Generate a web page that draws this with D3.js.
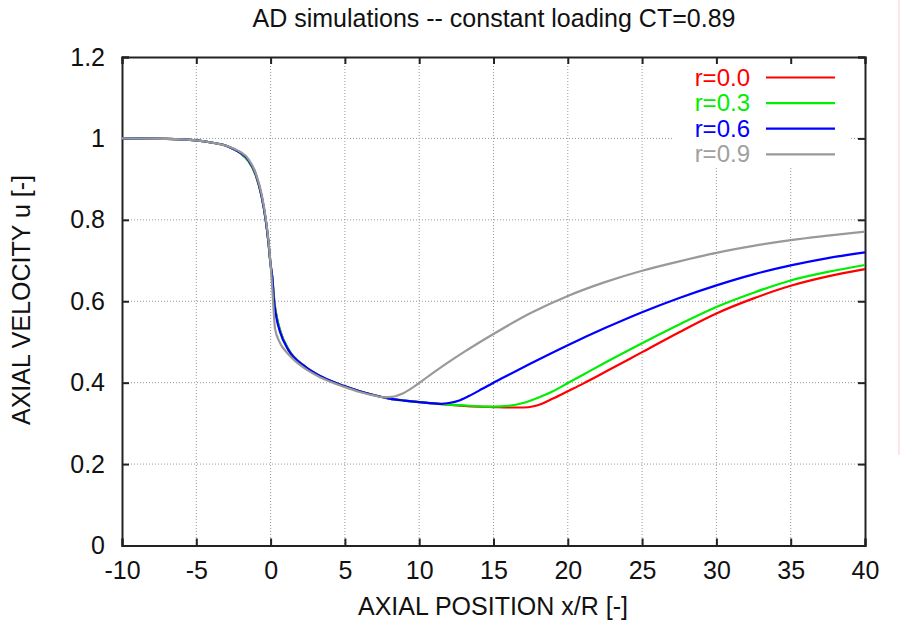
<!DOCTYPE html>
<html>
<head>
<meta charset="utf-8">
<title>AD simulations</title>
<script src="https://cdn.jsdelivr.net/npm/d3@7"></script>
<style>
	body { margin: 0; background: #fff; }
	svg text { font-family: "Liberation Sans", Arial, sans-serif; }
</style>
</head>
<body>
<div class="chart"></div>
<script>
	// tick values
	let xTicks = [-10, -5, 0, 5, 10, 15, 20, 25, 30, 35, 40];
	let yTicks = [0, 0.2, 0.4, 0.6, 0.8, 1, 1.2];

	// legend labels
	let labels = ["r=0.0", "r=0.3", "r=0.6", "r=0.9"];
	let colors = ["#ff0000", "#00ee00", "#0000ff", "#999999"];

	// r=0.0
	let x00 = [-10, -7, -5, -4, -3, -2.5, -2, -1.5, -1, -0.6, -0.33, -0.16, 0, 0.11, 0.25, 0.42, 0.65, 1.2, 2.3, 3.4, 5, 6, 7, 8, 9, 10, 11, 12, 13, 14, 15, 16, 17, 17.7, 18.3, 19, 20, 21, 22.5, 25, 27.5, 30, 32.5, 35, 37.5, 40];
	let u00 = [1.0, 0.999, 0.995, 0.99, 0.982, 0.974, 0.963, 0.945, 0.91, 0.857, 0.80, 0.75, 0.69, 0.66, 0.60, 0.56, 0.527, 0.482, 0.44, 0.415, 0.391, 0.379, 0.369, 0.361, 0.356, 0.352, 0.349, 0.346, 0.343, 0.341, 0.340, 0.339, 0.339, 0.342, 0.349, 0.361, 0.379, 0.397, 0.426, 0.475, 0.524, 0.570, 0.607, 0.638, 0.661, 0.679];
	// r=0.3
	let x03 = [-10, -7, -5, -4, -3, -2.5, -2, -1.5, -1, -0.6, -0.33, -0.16, 0, 0.11, 0.25, 0.42, 0.65, 1.2, 2.3, 3.4, 5, 6, 7, 8, 9, 10, 11, 12, 13, 14, 15, 16, 17, 18, 19, 20, 21, 22.5, 25, 27.5, 30, 32.5, 35, 37.5, 40];
	let u03 = [1.0, 0.999, 0.995, 0.99, 0.982, 0.974, 0.963, 0.945, 0.91, 0.857, 0.80, 0.75, 0.69, 0.66, 0.60, 0.56, 0.527, 0.482, 0.44, 0.415, 0.391, 0.379, 0.369, 0.361, 0.356, 0.352, 0.349, 0.346, 0.344, 0.342, 0.341, 0.343, 0.350, 0.363, 0.379, 0.399, 0.419, 0.449, 0.497, 0.543, 0.586, 0.621, 0.651, 0.672, 0.689];
	// r=0.6
	let x06 = [-10, -7, -5, -4, -3, -2.5, -2, -1.5, -1, -0.6, -0.33, -0.16, 0, 0.11, 0.23, 0.4, 0.63, 1.2, 2.3, 3.4, 5, 6, 7, 8, 9, 10, 11, 11.5, 12, 12.75, 13.5, 14.25, 15, 16, 17.5, 20, 22.5, 25, 27.5, 30, 32.5, 35, 37.5, 40];
	let u06 = [1.0, 0.999, 0.995, 0.99, 0.982, 0.974, 0.964, 0.947, 0.912, 0.857, 0.80, 0.75, 0.69, 0.66, 0.60, 0.558, 0.525, 0.48, 0.44, 0.415, 0.391, 0.379, 0.369, 0.361, 0.356, 0.352, 0.349, 0.348, 0.350, 0.357, 0.370, 0.385, 0.400, 0.419, 0.447, 0.492, 0.534, 0.573, 0.608, 0.639, 0.666, 0.688, 0.706, 0.720];
	// r=0.9
	let x09 = [-10, -7, -5, -4, -3, -2.5, -2, -1.5, -1, -0.6, -0.33, -0.16, 0, 0.1, 0.2, 0.3, 0.6, 1.2, 2.3, 3.4, 5, 6, 7, 7.6, 8.2, 8.8, 9.6, 10.7, 12, 13, 15.2, 17.5, 20, 22.5, 25, 27.5, 30, 32.5, 35, 37.5, 40];
	let u09 = [1.0, 0.999, 0.995, 0.99, 0.982, 0.975, 0.966, 0.95, 0.915, 0.862, 0.805, 0.755, 0.69, 0.64, 0.58, 0.532, 0.50, 0.47, 0.435, 0.412, 0.389, 0.377, 0.368, 0.364, 0.365, 0.372, 0.389, 0.418, 0.451, 0.475, 0.524, 0.571, 0.613, 0.647, 0.675, 0.698, 0.719, 0.736, 0.750, 0.761, 0.771];

	let series = [
		{"x": x00, "u": u00},
		{"x": x03, "u": u03},
		{"x": x06, "u": u06},
		{"x": x09, "u": u09}
	];

	window.onload = function(){
		showChart();
	}

	function showChart(){
		let svg_width = 901;
		let svg_height = 633;
		let padding = {"top": 57, "right": 36, "bottom": 87.5, "left": 122};
		let width = svg_width - padding.left - padding.right;
		let height = svg_height - padding.top - padding.bottom;

		let scaleX = d3.scaleLinear().domain([-10, 40]).range([0, width]);
		let scaleY = d3.scaleLinear().domain([0, 1.2]).range([height, 0]);

		let svg = d3.select(".chart").append("svg")
			.attr("width", svg_width)
			.attr("height", svg_height);

		// faint border line at far right
		svg.append("line")
			.attr("x1", 899).attr("x2", 899)
			.attr("y1", 0).attr("y2", 455)
			.attr("stroke", "#f8d0d0").attr("stroke-width", 1);

		// title
		svg.append("text")
			.attr("x", 494).attr("y", 27)
			.attr("text-anchor", "middle")
			.attr("font-size", 25)
			.attr("fill", "#111")
			.text("AD simulations -- constant loading CT=0.89");

		let g = svg.append("g")
			.attr("transform", "translate(" + padding.left + "," + padding.top + ")");

		// grid
		g.append("g").selectAll("line")
			.data(xTicks.slice(1, -1))
			.enter().append("line")
			.attr("x1", d => scaleX(d)).attr("x2", d => scaleX(d))
			.attr("y1", 0).attr("y2", height)
			.attr("stroke", "#999").attr("stroke-width", 1)
			.attr("stroke-dasharray", "1,2");
		g.append("g").selectAll("line")
			.data(yTicks.slice(1, -1))
			.enter().append("line")
			.attr("x1", 0).attr("x2", width)
			.attr("y1", d => scaleY(d)).attr("y2", d => scaleY(d))
			.attr("stroke", "#999").attr("stroke-width", 1)
			.attr("stroke-dasharray", "1,2");

		// legend background masks the grid
		g.append("rect")
			.attr("x", 551).attr("y", 1)
			.attr("width", 177).attr("height", 108)
			.attr("fill", "#fff");

		// axes, ticks pointing inward on all sides
		let tick = 7;
		let fmt = d => String(d);
		let axisB = d3.axisBottom(scaleX).tickValues(xTicks).tickSize(-tick).tickPadding(16).tickFormat(fmt);
		let axisT = d3.axisTop(scaleX).tickValues(xTicks).tickSize(-tick).tickFormat("");
		let axisL = d3.axisLeft(scaleY).tickValues(yTicks).tickSize(-tick).tickPadding(17).tickFormat(fmt);
		let axisR = d3.axisRight(scaleY).tickValues(yTicks).tickSize(-tick).tickFormat("");

		let gb = g.append("g").attr("transform", "translate(0," + height + ")").call(axisB);
		let gt = g.append("g").call(axisT);
		let gl = g.append("g").call(axisL);
		let gr = g.append("g").attr("transform", "translate(" + width + ",0)").call(axisR);

		[gb, gt, gl, gr].forEach(a => {
			a.select(".domain").attr("stroke", "#222").attr("stroke-width", 2);
			a.selectAll(".tick line").attr("stroke", "#222").attr("stroke-width", 2);
			a.selectAll("text").attr("font-size", 25).attr("fill", "#111")
				.attr("font-family", "Liberation Sans, Arial, sans-serif");
		});
		gb.selectAll(".tick text").attr("dy", "0.71em");

		// curves
		let line = d3.line()
			.x(d => scaleX(d[0]))
			.y(d => scaleY(d[1]))
			.curve(d3.curveMonotoneX);

		series.forEach((s, i) => {
			let pts = s.x.map((v, k) => [v, s.u[k]]);
			g.append("path")
				.datum(pts)
				.attr("d", line)
				.attr("fill", "none")
				.attr("stroke", colors[i])
				.attr("stroke-width", 2.2);
		});

		// legend
		let legend = svg.append("g");
		labels.forEach((lab, i) => {
			let y = 77.5 + i * 25.6;
			legend.append("text")
				.attr("x", 750).attr("y", y + 8)
				.attr("text-anchor", "end")
				.attr("font-size", 24)
				.attr("fill", i == 3 ? "#a0a0a0" : colors[i])
				.text(lab);
			legend.append("line")
				.attr("x1", 766).attr("x2", 835)
				.attr("y1", y).attr("y2", y)
				.attr("stroke", colors[i]).attr("stroke-width", 2.2);
		});

		// axis titles
		svg.append("text")
			.attr("x", 493).attr("y", 615)
			.attr("text-anchor", "middle")
			.attr("font-size", 25)
			.attr("fill", "#111")
			.text("AXIAL POSITION x/R [-]");
		svg.append("text")
			.attr("transform", "translate(30,300) rotate(-90)")
			.attr("text-anchor", "middle")
			.attr("font-size", 25)
			.attr("fill", "#111")
			.text("AXIAL VELOCITY u [-]");
	}
</script>
</body>
</html>
